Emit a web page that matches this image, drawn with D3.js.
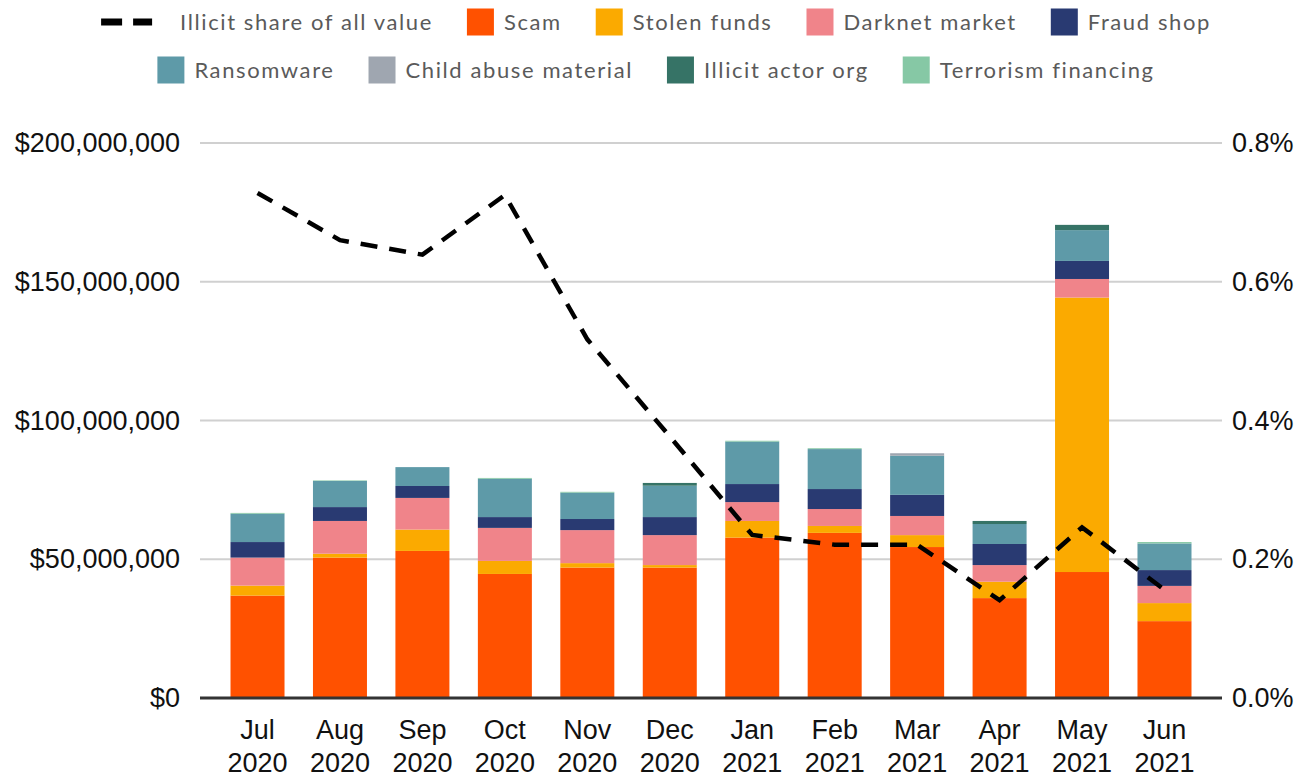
<!DOCTYPE html>
<html lang="en">
<head>
<meta charset="UTF-8">
<script src="https://d3js.org/d3.v7.min.js"></script>
<style>
  body { margin: 0; background: #fff; }
  svg { display: block; }
</style>
</head>
<body>
<div id="chart"></div>
<script>
// months shown on the x axis (two lines each)
const months = ["Jul 2020", "Aug 2020", "Sep 2020", "Oct 2020", "Nov 2020", "Dec 2020",
                "Jan 2021", "Feb 2021", "Mar 2021", "Apr 2021", "May 2021", "Jun 2021"];

// values in USD millions
const scam      = [36.9, 50.6, 53.0, 44.7, 47.0, 47.0, 57.8, 59.5, 54.4, 36.0, 45.4, 27.7];
const stolen    = [3.6, 1.4, 7.7, 4.7, 1.6, 0.9, 6.0, 2.5, 4.3, 5.9, 98.9, 6.5];
const darknet   = [10.1, 11.8, 11.4, 11.9, 11.9, 10.8, 6.8, 6.1, 6.9, 6.0, 6.7, 6.2];
const fraudShop = [5.6, 5.0, 4.3, 3.9, 4.0, 6.5, 6.5, 7.2, 7.6, 7.6, 6.5, 5.7];
const ransom    = [10.2, 9.4, 6.8, 13.8, 9.5, 11.3, 15.3, 14.4, 14.1, 7.2, 11.1, 9.6];
const childAbuse = [0, 0, 0, 0, 0, 0, 0, 0, 0.9, 0, 0, 0];
const actorOrg  = [0, 0, 0, 0, 0, 1.0, 0, 0, 0, 1.1, 1.9, 0];
const terrorism = [0.3, 0.2, 0, 0.3, 0.3, 0, 0.3, 0.3, 0, 0, 0, 0.5];

// illicit share of all value, in percent
const illicitShare = [0.728, 0.660, 0.639, 0.725, 0.517, 0.377, 0.235, 0.221, 0.221, 0.141, 0.246, 0.156];

const leftTicks = [0, 50e6, 100e6, 150e6, 200e6];
const rightTicks = [0, 0.2, 0.4, 0.6, 0.8];

const seriesNames = ["Scam", "Stolen funds", "Darknet market", "Fraud shop",
                     "Ransomware", "Child abuse material", "Illicit actor org", "Terrorism financing"];
const seriesValues = [scam, stolen, darknet, fraudShop, ransom, childAbuse, actorOrg, terrorism];
const seriesColors = ["#ff5100", "#fbaa00", "#f0848a", "#293a72",
                      "#5e9aa8", "#9fa6b0", "#367366", "#86c8a5"];

const width = 1312, height = 777;
const plot = {left: 200, right: 1222, top: 143, bottom: 698};

const svg = d3.select("#chart").append("svg")
    .attr("width", width)
    .attr("height", height);

// build rows for the stack
const rows = months.map((m, i) => {
  const r = {month: m};
  seriesNames.forEach((s, j) => r[s] = seriesValues[j][i] * 1e6);
  return r;
});
const stacked = d3.stack().keys(seriesNames)(rows);

const x = d3.scaleBand()
    .domain(months)
    .range([plot.left, plot.right])
    .paddingInner(0.345)
    .paddingOuter(0.37);

const y = d3.scaleLinear().domain([0, 200e6]).range([plot.bottom, plot.top]);
const y2 = d3.scaleLinear().domain([0, 0.8]).range([plot.bottom, plot.top]);

const axisFont = "'Liberation Sans', Arial, sans-serif";
const axisSize = 27;

// grid lines
svg.append("g")
  .selectAll("line")
  .data(leftTicks.slice(1))
  .join("line")
    .attr("x1", plot.left)
    .attr("x2", plot.right)
    .attr("y1", d => y(d))
    .attr("y2", d => y(d))
    .attr("stroke", "#d0d0d0")
    .attr("stroke-width", 2);

// left axis
const yAxis = svg.append("g")
    .attr("transform", `translate(${plot.left},0)`)
    .call(d3.axisLeft(y).tickValues(leftTicks).tickFormat(d3.format("$,")).tickSize(0).tickPadding(20));
yAxis.select(".domain").remove();
yAxis.selectAll("text")
    .attr("font-family", axisFont)
    .attr("font-size", axisSize)
    .attr("fill", "#111");

// right axis
const yAxis2 = svg.append("g")
    .attr("transform", `translate(${plot.right},0)`)
    .call(d3.axisRight(y2).tickValues(rightTicks).tickFormat(d => d3.format(".1f")(d) + "%").tickSize(0).tickPadding(10));
yAxis2.select(".domain").remove();
yAxis2.selectAll("text")
    .attr("font-family", axisFont)
    .attr("font-size", axisSize)
    .attr("fill", "#111");

// stacked bars
svg.append("g")
  .selectAll("g")
  .data(stacked)
  .join("g")
    .attr("fill", (d, i) => seriesColors[i])
  .selectAll("rect")
  .data(d => d)
  .join("rect")
    .attr("x", d => x(d.data.month))
    .attr("width", x.bandwidth())
    .attr("y", d => y(d[1]))
    .attr("height", d => y(d[0]) - y(d[1]));

// baseline
svg.append("line")
    .attr("x1", plot.left)
    .attr("x2", plot.right)
    .attr("y1", y(0))
    .attr("y2", y(0))
    .attr("stroke", "#333")
    .attr("stroke-width", 3);

// x axis labels, two lines
const xl = svg.append("g")
  .selectAll("text")
  .data(months)
  .join("text")
    .attr("x", d => x(d) + x.bandwidth() / 2)
    .attr("text-anchor", "middle")
    .attr("font-family", axisFont)
    .attr("font-size", axisSize)
    .attr("fill", "#111");
xl.append("tspan").attr("x", d => x(d) + x.bandwidth() / 2).attr("y", 739).text(d => d.split(" ")[0]);
xl.append("tspan").attr("x", d => x(d) + x.bandwidth() / 2).attr("y", 772).text(d => d.split(" ")[1]);

// share line
const line = d3.line()
    .x((d, i) => x(months[i]) + x.bandwidth() / 2)
    .y(d => y2(d));

svg.append("path")
    .datum(illicitShare)
    .attr("d", line)
    .attr("fill", "none")
    .attr("stroke", "#000")
    .attr("stroke-width", 4.5)
    .attr("stroke-dasharray", "17,12");

// legend
const legendFont = "Lato, 'Open Sans', sans-serif";
const legendItems = [
  [{name: "Illicit share of all value", line: true}].concat(seriesNames.slice(0, 4).map((n, i) => ({name: n, color: seriesColors[i]}))),
  seriesNames.slice(4).map((n, i) => ({name: n, color: seriesColors[i + 4]}))
];
const rowY = [22, 70];
const swatch = 27, itemGap = 34;

legendItems.forEach((items, r) => {
  const g = svg.append("g");
  let cx = 0;
  items.forEach(it => {
    const ig = g.append("g").attr("transform", `translate(${cx},0)`);
    let tx;
    if (it.line) {
      ig.append("line")
          .attr("x1", 0).attr("x2", 51)
          .attr("y1", rowY[r]).attr("y2", rowY[r])
          .attr("stroke", "#000")
          .attr("stroke-width", 7)
          .attr("stroke-dasharray", "21,11");
      tx = 79;
    } else {
      ig.append("rect")
          .attr("x", 0).attr("y", rowY[r] - swatch / 2)
          .attr("width", swatch).attr("height", swatch)
          .attr("fill", it.color);
      tx = swatch + 10;
    }
    const t = ig.append("text")
        .attr("x", tx)
        .attr("y", rowY[r])
        .attr("dy", "0.35em")
        .attr("font-family", legendFont)
        .attr("font-size", 22)
        .attr("letter-spacing", 1.6)
        .attr("fill", "#5a5a5a")
        .text(it.name);
    cx += tx + t.node().getComputedTextLength() + itemGap;
  });
  const total = cx - itemGap;
  g.attr("transform", `translate(${656 - total / 2},0)`);
});
</script>
</body>
</html>
